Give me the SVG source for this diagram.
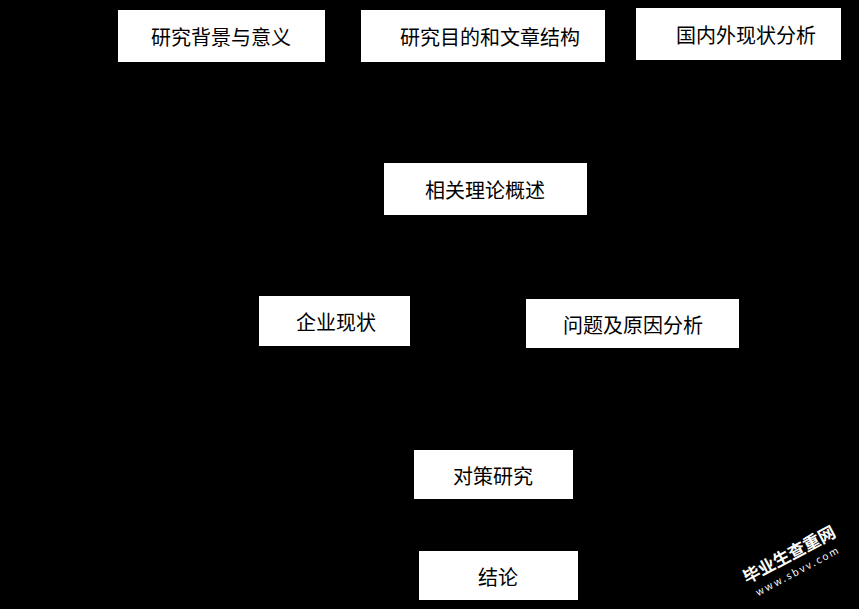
<svg xmlns="http://www.w3.org/2000/svg" width="859" height="609" viewBox="0 0 859 609">
<style>
.box{fill:#fff;stroke:none}
.t{font-family:"Noto Sans CJK SC","Noto Sans",sans-serif;font-size:20px;fill:#000;text-anchor:middle;dominant-baseline:central}
.c{stroke:#000;stroke-width:1.5;fill:none}
</style>
<rect width="859" height="609" fill="#000"/>
<g id="connectors">
<path class="c" d="M221 62V110H720V60M483 62V163M485 215V260H334V296M485 260H632V299M334 346V420H493V450M632 348V420M493 499V551"/>
</g>
<g id="n1"><rect class="box" x="118" y="10" width="207" height="52"/><text class="t" x="221" y="36">研究背景与意义</text></g>
<g id="n2"><rect class="box" x="361" y="10" width="244" height="52"/><text class="t" x="490" y="36">研究目的和文章结构</text></g>
<g id="n3"><rect class="box" x="636" y="8" width="205" height="52"/><text class="t" x="746" y="34">国内外现状分析</text></g>
<g id="n4"><rect class="box" x="384" y="163" width="203" height="52"/><text class="t" x="485" y="189">相关理论概述</text></g>
<g id="n5"><rect class="box" x="259" y="296" width="151" height="50"/><text class="t" x="336" y="321">企业现状</text></g>
<g id="n6"><rect class="box" x="526" y="299" width="213" height="49"/><text class="t" x="633" y="324">问题及原因分析</text></g>
<g id="n7"><rect class="box" x="414" y="450" width="159" height="49"/><text class="t" x="493" y="475">对策研究</text></g>
<g id="n8"><rect class="box" x="419" y="551" width="159" height="49"/><text class="t" x="498" y="576">结论</text></g>
<g id="watermark" transform="translate(792,560) rotate(-28)" font-family="'Noto Sans CJK SC',sans-serif" fill="#fff" text-anchor="middle">
<text x="0" y="0" font-size="17" font-weight="bold">毕业生查重网</text>
<text x="0" y="16" font-size="10" letter-spacing="2">www.sbvv.com</text>
</g>
</svg>
